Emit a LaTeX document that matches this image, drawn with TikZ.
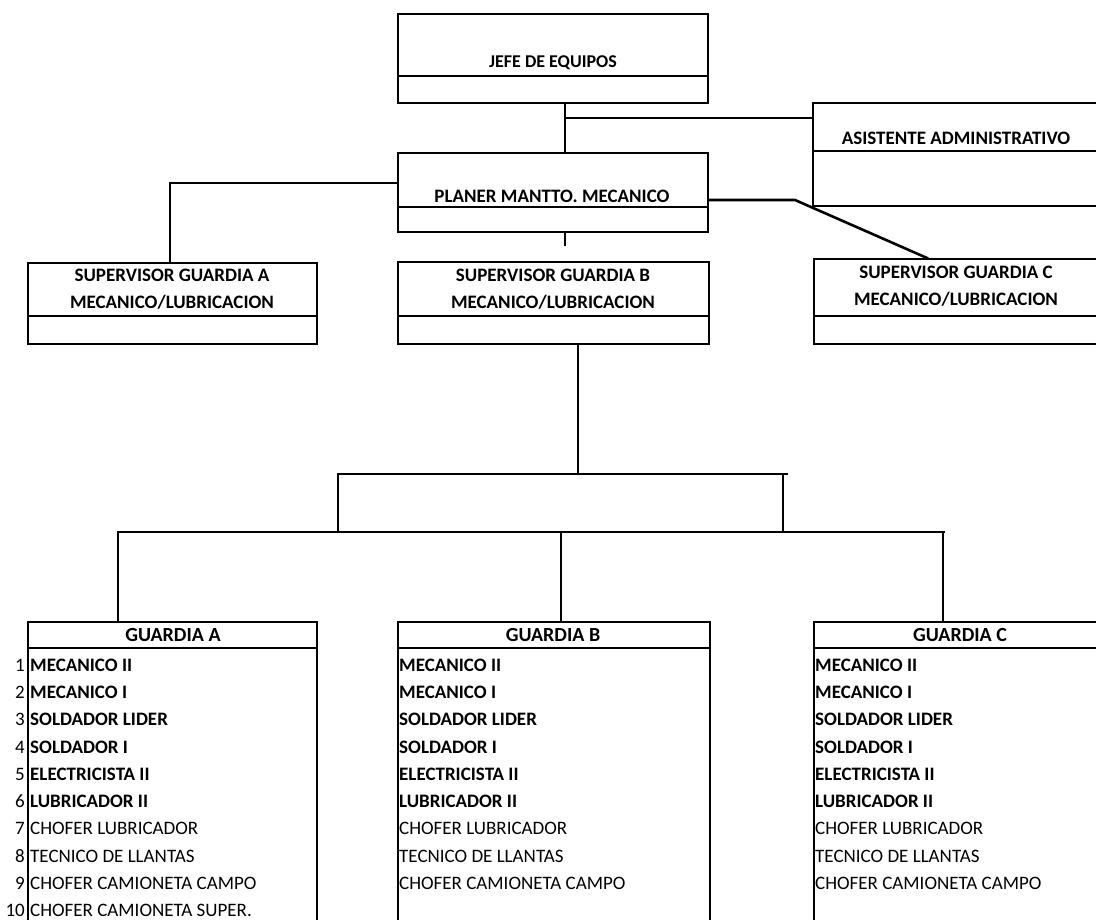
\documentclass[tikz,border=0pt]{standalone}
\usepackage{fontspec}
\setmainfont{Carlito}
\begin{document}
\begin{tikzpicture}[x=1pt,y=-1pt,
  box/.style={draw, line width=1.8pt, inner sep=0pt, anchor=north west},
  conn/.style={line width=2.6pt, line cap=rect},
  title/.style={font=\bfseries\fontsize{19}{21}\selectfont, inner sep=0pt},
  item/.style={font=\fontsize{19}{21}\selectfont, inner sep=0pt, anchor=west},
  itemb/.style={item, font=\bfseries\fontsize{19}{21}\selectfont},
  num/.style={font=\fontsize{19}{21}\selectfont, inner sep=0pt, anchor=east}]
\useasboundingbox (0,0) rectangle (1096,920);
\clip (0,0) rectangle (1096,920);
\fill[white] (0,0) rectangle (1096,920);

% top level
\node[box, minimum width=310pt, minimum height=62pt] (jefe) at (397,13) {};
\node[box, minimum width=310pt, minimum height=27pt] (jefeb) at (397,75) {};
\node[title, font=\bfseries\fontsize{18}{20}\selectfont] (jefe-t) at (553,63) {JEFE DE EQUIPOS};

\node[box, minimum width=300pt, minimum height=48pt] (asis) at (812,102) {};
\node[box, minimum width=300pt, minimum height=55pt] (asisb) at (812,150) {};
\node[title] (asis-t) at (956,138) {ASISTENTE ADMINISTRATIVO};

\node[box, minimum width=310pt, minimum height=54pt] (plan) at (397,152) {};
\node[box, minimum width=310pt, minimum height=25pt] (planb) at (397,206) {};
\node[title] (plan-t) at (552,196) {PLANER MANTTO. MECANICO};

% supervisors
\node[box, minimum width=289pt, minimum height=53pt] (supa) at (27,262) {};
\node[box, minimum width=289pt, minimum height=28pt] (supab) at (27,315) {};
\node[title, align=center] (supa-t) at (172,289) {SUPERVISOR GUARDIA A\\[6pt]MECANICO/LUBRICACION};

\node[box, minimum width=311pt, minimum height=54pt] (supb) at (397,261) {};
\node[box, minimum width=311pt, minimum height=28pt] (supbb) at (397,315) {};
\node[title, align=center] (supb-t) at (553,289) {SUPERVISOR GUARDIA B\\[6pt]MECANICO/LUBRICACION};

\node[box, minimum width=294pt, minimum height=57pt] (supc) at (813,258) {};
\node[box, minimum width=294pt, minimum height=28pt] (supcb) at (813,315) {};
\node[title, align=center] (supc-t) at (956,286) {SUPERVISOR GUARDIA C\\[6pt]MECANICO/LUBRICACION};

% crews
\node[box, minimum width=289pt, minimum height=26pt] (ga) at (27,621) {};
\node[box, minimum width=289pt, minimum height=300pt] (gab) at (27,647) {};
\node[title, font=\bfseries\fontsize{20}{22}\selectfont] (ga-t) at (173,635) {GUARDIA A};
\node[box, minimum width=312pt, minimum height=26pt] (gb) at (397,621) {};
\node[box, minimum width=312pt, minimum height=300pt] (gbb) at (397,647) {};
\node[title, font=\bfseries\fontsize{20}{22}\selectfont] (gb-t) at (553,635) {GUARDIA B};
\node[box, minimum width=294pt, minimum height=26pt] (gc) at (813,621) {};
\node[box, minimum width=294pt, minimum height=300pt] (gcb) at (813,647) {};
\node[title, font=\bfseries\fontsize{20}{22}\selectfont] (gc-t) at (960,635) {GUARDIA C};

% staff lists
\foreach \g/\x in {a/30, b/399, c/815}{
  \foreach \i/\t in {1/MECANICO II, 2/MECANICO I, 3/SOLDADOR LIDER, 4/SOLDADOR I, 5/ELECTRICISTA II, 6/LUBRICADOR II}
    \node[itemb] (g\g-\i) at (\x, 665+27.3*\i-27.3) {\t};
  \foreach \i/\t in {7/CHOFER LUBRICADOR, 8/TECNICO DE LLANTAS, 9/CHOFER CAMIONETA CAMPO}
    \node[item] (g\g-\i) at (\x, 665+27.3*\i-27.3) {\t};
}
\node[item] (ga-10) at (30,910.7) {CHOFER CAMIONETA SUPER.};
\foreach \i in {1,...,10}
  \node[num] (n\i) at (25, 665+27.3*\i-27.3) {\i};

% column references for the connectors
\coordinate (c1) at (565,0);
\coordinate (c2) at (170,0);
\coordinate (c3) at (578,0);
\coordinate (bend) at (795,200);
\coordinate (stub) at (565,245);
\coordinate (upl) at (338,474);
\coordinate (upr) at (787,474);
\coordinate (upr2) at (783,474);
\coordinate (lol) at (118,532);
\coordinate (lor) at (944,532);

\draw[conn] (jefeb.south -| c1) -- (plan.north -| c1);
\draw[conn] (565,118) coordinate (br) -- (br -| asis.west);
\draw[conn] (plan.west |- 0,183) -| (supa.north -| c2);
\draw[conn] (plan.east |- 0,200) -- (bend) -- (supc.north -| 927,0);
\draw[conn] (planb.south -| c1) -- (stub);
\draw[conn] (supbb.south -| c3) -- (upl -| c3);
\draw[conn] (upl) -- (upr);
\draw[conn] (upl) -- (lol -| upl);
\draw[conn] (upr2) -- (lol -| upr2);
\draw[conn] (lol) -- (lor);
\draw[conn] (lol) -- (ga.north -| lol);
\draw[conn] (561,532) coordinate (mid) -- (gb.north -| mid);
\draw[conn] (943,532) coordinate (rgt) -- (gc.north -| rgt);
\end{tikzpicture}
\end{document}
